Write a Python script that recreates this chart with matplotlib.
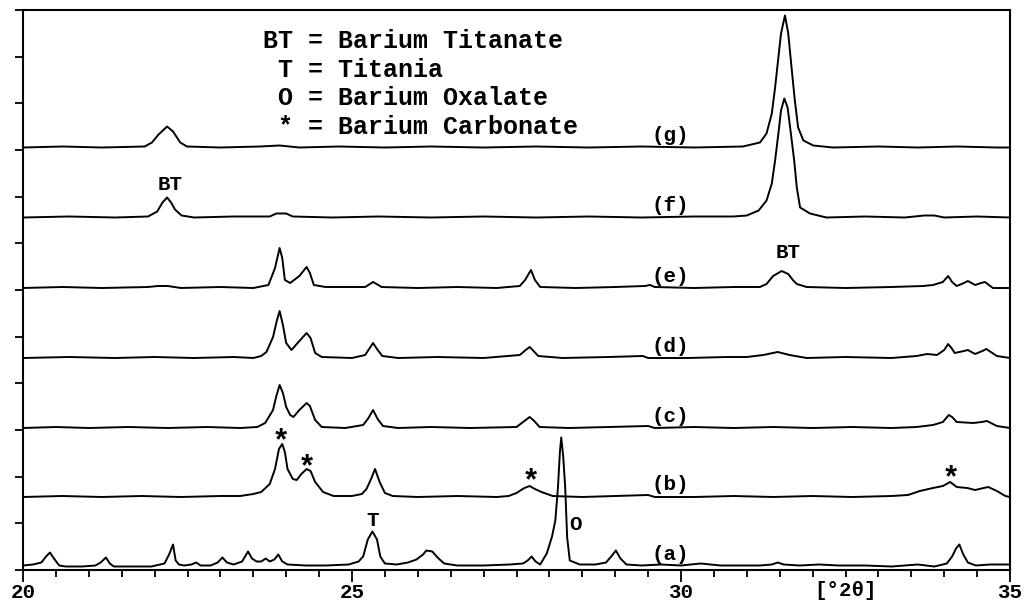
import matplotlib
matplotlib.use('Agg')
import matplotlib.pyplot as plt
import numpy as np

# XRD patterns (2theta in degrees, intensity in counts above each pattern's own baseline)
pat_a = [(20.00, 1), (20.15, 2), (20.28, 4), (20.35, 10), (20.41, 14), (20.47, 8), (20.55, 1), (20.65, 0),
         (20.9, 0), (21.1, 1), (21.18, 4), (21.26, 9), (21.32, 3), (21.38, 0), (21.7, 0), (21.95, 0),
         (22.15, 3), (22.22, 12), (22.28, 22), (22.32, 6), (22.37, 2), (22.45, 1), (22.56, 2), (22.63, 4),
         (22.70, 1), (22.85, 1), (22.96, 4), (23.03, 9), (23.10, 4), (23.20, 2), (23.33, 5), (23.42, 15),
         (23.48, 8), (23.55, 5), (23.62, 5), (23.69, 8), (23.75, 5), (23.82, 7), (23.88, 12), (23.94, 5),
         (24.02, 2), (24.3, 1), (24.6, 1), (24.95, 2), (25.10, 5), (25.17, 10), (25.24, 27), (25.31, 35),
         (25.38, 27), (25.43, 10), (25.50, 3), (25.68, 2), (25.85, 4), (25.98, 7), (26.08, 12), (26.13, 16),
         (26.22, 15), (26.30, 9), (26.40, 3), (26.6, 1), (27.0, 1), (27.4, 2), (27.60, 3), (27.67, 6),
         (27.73, 10), (27.79, 5), (27.86, 2), (27.96, 13), (28.04, 30), (28.09, 46), (28.13, 79), (28.16, 115),
         (28.18, 129), (28.21, 110), (28.24, 79), (28.27, 29), (28.31, 6), (28.46, 2), (28.70, 2), (28.86, 4),
         (28.94, 10), (29.01, 16), (29.08, 8), (29.17, 2), (29.40, 1), (29.70, 2), (30.0, 1), (30.3, 3),
         (30.6, 1), (30.9, 1), (31.2, 1), (31.38, 2), (31.47, 4), (31.56, 2), (31.80, 1), (32.1, 2),
         (32.4, 1), (32.8, 1), (33.2, 0), (33.6, 2), (33.85, 0), (34.04, 3), (34.12, 10), (34.18, 18),
         (34.23, 22), (34.29, 12), (34.36, 4), (34.48, 1), (34.7, 2), (35.0, 2)]

pat_b = [(20.0, 0), (20.6, 1), (21.2, 0), (21.8, 1), (22.4, 0), (23.0, 1), (23.3, 1), (23.5, 3),
         (23.62, 5), (23.75, 13), (23.83, 28), (23.89, 48), (23.94, 53), (23.98, 45), (24.02, 28), (24.1, 18),
         (24.16, 17), (24.23, 23), (24.31, 28), (24.37, 26), (24.44, 15), (24.56, 5), (24.72, 1), (25.0, 1),
         (25.15, 3), (25.22, 8), (25.29, 18), (25.35, 28), (25.42, 15), (25.5, 4), (25.62, 1), (26.0, 0),
         (26.6, 1), (27.2, 0), (27.38, 1), (27.5, 4), (27.62, 9), (27.7, 11), (27.78, 8), (27.88, 5),
         (28.05, 1), (28.5, 0), (29.0, 1), (29.5, 2), (29.6, 0), (30.2, 0), (30.8, 1), (31.4, 0),
         (32.0, 1), (32.6, 0), (33.2, 1), (33.45, 2), (33.63, 6), (33.83, 9), (33.98, 11), (34.09, 15),
         (34.19, 10), (34.35, 9), (34.47, 7), (34.6, 9), (34.67, 10), (34.8, 6), (34.93, 1), (35.0, 0)]

pat_c = [(20.0, 0), (20.5, 1), (21.0, 0), (21.6, 1), (22.2, 0), (22.8, 1), (23.3, 0), (23.56, 1),
         (23.68, 5), (23.8, 18), (23.85, 32), (23.9, 43), (23.95, 35), (24.0, 21), (24.06, 13), (24.11, 11),
         (24.2, 18), (24.31, 25), (24.36, 22), (24.44, 8), (24.54, 1), (24.9, 0), (25.17, 3), (25.25, 10),
         (25.32, 18), (25.39, 9), (25.47, 2), (25.7, 0), (26.2, 1), (26.8, 0), (27.5, 1), (27.62, 7),
         (27.7, 11), (27.77, 7), (27.85, 1), (28.3, 0), (28.9, 1), (29.5, 2), (29.6, 0), (30.2, 1),
         (30.8, 0), (31.4, 1), (32.0, 0), (32.6, 1), (33.2, 0), (33.58, 1), (33.83, 3), (33.98, 6),
         (34.07, 13), (34.12, 11), (34.19, 6), (34.44, 5), (34.57, 6), (34.65, 7), (34.8, 2), (35.0, 0)]

pat_d = [(20.0, 0), (20.7, 1), (21.4, 0), (22.0, 1), (22.6, 0), (23.2, 1), (23.5, 0), (23.62, 2),
         (23.7, 6), (23.8, 21), (23.86, 38), (23.9, 47), (23.95, 33), (24.0, 15), (24.08, 8), (24.2, 17),
         (24.31, 25), (24.37, 20), (24.44, 5), (24.54, 1), (25.0, 0), (25.2, 3), (25.27, 10), (25.32, 15),
         (25.38, 9), (25.46, 2), (25.7, 0), (26.3, 1), (27.0, 0), (27.55, 3), (27.64, 8), (27.7, 11),
         (27.76, 7), (27.83, 2), (28.2, 0), (28.9, 1), (29.42, 2), (29.5, 0), (30.1, 0), (30.7, 1),
         (31.0, 1), (31.25, 3), (31.47, 6), (31.65, 3), (31.91, 0), (32.5, 1), (33.2, 0), (33.58, 2),
         (33.74, 4), (33.89, 3), (34.0, 8), (34.06, 14), (34.11, 10), (34.16, 5), (34.3, 7), (34.36, 8),
         (34.47, 4), (34.58, 7), (34.64, 9), (34.8, 2), (35.0, 0)]

pat_e = [(20.0, 0), (20.6, 1), (21.2, 0), (21.9, 1), (22.05, 2), (22.2, 2), (22.4, 0), (23.0, 1),
         (23.5, 0), (23.73, 3), (23.83, 20), (23.9, 40), (23.94, 30), (23.98, 8), (24.06, 5), (24.2, 12),
         (24.31, 21), (24.36, 15), (24.42, 3), (24.6, 1), (25.2, 1), (25.32, 6), (25.45, 1), (26.0, 0),
         (26.6, 1), (27.2, 0), (27.55, 2), (27.63, 8), (27.72, 18), (27.78, 8), (27.86, 1), (28.4, 0),
         (29.0, 1), (29.45, 2), (29.53, 3), (29.6, 1), (30.2, 0), (30.8, 1), (31.2, 1), (31.3, 4),
         (31.4, 12), (31.53, 17), (31.63, 14), (31.7, 8), (31.76, 4), (31.91, 1), (32.5, 0), (33.2, 1),
         (33.68, 2), (33.83, 3), (33.98, 6), (34.06, 12), (34.12, 6), (34.19, 2), (34.3, 5), (34.36, 7),
         (34.47, 3), (34.56, 5), (34.62, 6), (34.74, 0), (35.0, 0)]

pat_f = [(20.0, 0), (20.7, 1), (21.4, 0), (21.9, 1), (22.04, 6), (22.12, 15), (22.19, 20), (22.25, 15),
         (22.31, 8), (22.41, 2), (22.6, 0), (23.2, 1), (23.75, 1), (23.85, 4), (24.0, 4), (24.1, 1),
         (24.7, 0), (25.4, 1), (26.2, 0), (27.0, 1), (27.8, 0), (28.6, 1), (29.4, 0), (30.2, 1),
         (30.8, 1), (31.0, 2), (31.18, 7), (31.3, 17), (31.38, 34), (31.43, 57), (31.48, 84), (31.52, 107),
         (31.57, 119), (31.62, 110), (31.67, 84), (31.72, 57), (31.76, 30), (31.81, 10), (31.96, 4), (32.21, 0),
         (32.8, 1), (33.4, 0), (33.7, 2), (33.85, 2), (34.0, 0), (34.5, 1), (35.0, 0)]

pat_g = [(20.0, 0), (20.6, 1), (21.2, 0), (21.85, 1), (21.96, 5), (22.06, 13), (22.19, 21), (22.28, 16),
         (22.39, 5), (22.49, 1), (23.0, 0), (23.6, 1), (23.9, 2), (24.2, 0), (24.8, 1), (25.5, 0),
         (26.2, 1), (27.0, 0), (27.8, 1), (28.6, 0), (29.4, 1), (30.2, 0), (30.94, 1), (31.2, 5),
         (31.3, 14), (31.38, 34), (31.43, 60), (31.48, 90), (31.52, 114), (31.58, 132), (31.63, 114), (31.68, 80),
         (31.73, 47), (31.78, 20), (31.86, 7), (32.01, 2), (32.31, 0), (33.0, 1), (33.6, 0), (34.2, 1),
         (34.8, 0), (35.0, 0)]

patterns = [pat_a, pat_b, pat_c, pat_d, pat_e, pat_f, pat_g]
names = ['(a)', '(b)', '(c)', '(d)', '(e)', '(f)', '(g)']
offsets = [3.5, 73, 142, 212, 282, 352.5, 422.5]  # vertical stacking of the patterns

legend_lines = ['BT = Barium Titanate', ' T = Titania', ' O = Barium Oxalate', ' * = Barium Carbonate']

major_x = [20, 25, 30, 35]
major_xlabels = ['20', '25', '30', '35']

mono = 'Liberation Mono'

fig = plt.figure(figsize=(10.24, 6.03), dpi=100)
ax = fig.add_axes([23 / 1024, 33 / 603, 987 / 1024, 560 / 603])

for pts, off, name in zip(patterns, offsets, names):
    tth, cts = zip(*pts)
    ax.plot(tth, np.array(cts) + off, color='black', lw=1.4)
    ax.text(29.83, off + 12, name, ha='center', va='center', family=mono,
            fontweight='bold', fontsize=15)

# legend block
for i, line in enumerate(legend_lines):
    ax.text(23.65, 529 - i * 28.7, line, ha='left', va='center', family=mono,
            fontweight='bold', fontsize=18)

# phase markers
ax.text(22.23, 386, 'BT', ha='center', va='center', family=mono, fontweight='bold', fontsize=15)
ax.text(31.63, 317, 'BT', ha='center', va='center', family=mono, fontweight='bold', fontsize=15)
for x, y in [(23.92, 134), (24.32, 108), (27.72, 94), (34.1, 97)]:
    ax.text(x, y - 6, '*', ha='center', va='center', family=mono, fontweight='bold', fontsize=22)
ax.text(25.32, 50, 'T', ha='center', va='center', family=mono, fontweight='bold', fontsize=15)
ax.text(28.4, 45, 'O', ha='center', va='center', family=mono, fontweight='bold', fontsize=15)

ax.set_xlim(20, 35)
ax.set_ylim(0, 560)

ax.set_xticks(major_x)
ax.set_xticklabels(major_xlabels)
minor_x = np.arange(20, 35.01, 0.5)
ax.set_xticks(minor_x, minor=True)
ax.set_xticklabels(['[°2θ]' if abs(v - 32.5) < 1e-6 else '' for v in minor_x], minor=True)
ax.set_yticks(np.linspace(0, 560, 13))
ax.set_yticklabels([])

ax.tick_params(axis='x', which='major', direction='out', length=8.4, width=1.3, pad=1,
               labelsize=15)
ax.tick_params(axis='x', which='minor', direction='out', length=5, width=1.3, pad=3,
               labelsize=15)
ax.tick_params(axis='y', direction='out', length=6, width=1.3)
for lab in ax.get_xticklabels() + ax.get_xticklabels(minor=True):
    lab.set_family(mono)
    lab.set_fontweight('bold')

for sp in ax.spines.values():
    sp.set_linewidth(1.5)

fig.savefig('out.png', dpi=100)
